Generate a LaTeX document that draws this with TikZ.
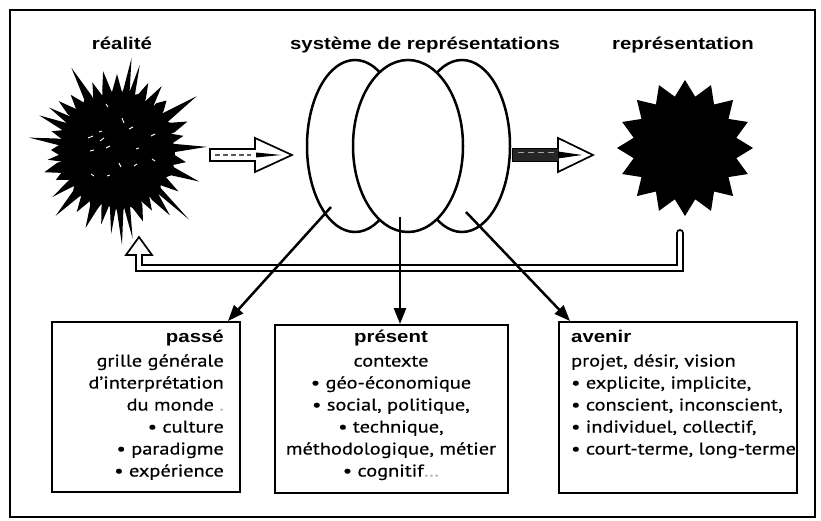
\documentclass[tikz,border=0pt]{standalone}
\usepackage{fontspec}
\setmainfont{PT Sans}
\newfontfamily\ttlfont[FakeStretch=1.2]{Liberation Sans}
\newfontfamily\bxfont[FakeStretch=1.2,FakeBold=0.6]{PT Sans}
\usetikzlibrary{arrows.meta,shapes.geometric}
\newcommand\boxhead[1]{{\ttlfont\bfseries #1}}
\begin{document}
\begin{tikzpicture}[x=1pt,y=-1pt,
  ttl/.style={font=\ttlfont\bfseries\fontsize{17}{20}\selectfont, inner sep=0pt},
  bx/.style={draw, line width=1.9pt, inner sep=0pt},
  bxtext/.style={font=\bxfont\fontsize{17}{22}\selectfont, inner sep=0pt},
  elps/.style={ellipse, draw, line width=2.5pt, fill=white, inner sep=0pt, minimum height=172pt},
  conn/.style={line width=2.5pt, -{Triangle[length=16pt,width=12pt]}},
  hollow/.style={fill=white, draw, line width=1.7pt, line join=miter}
]
\useasboundingbox (0,0) rectangle (821,521);
\draw[line width=1.8pt] (10,10) rectangle (815,517);

% titles
\node[ttl, anchor=base] (treal) at (122,50) {réalité};
\node[ttl, anchor=base] (tsys) at (425,50) {système de représentations};
\node[ttl, anchor=base] (trep) at (683,50) {représentation};

% reality burst
\coordinate (real) at (117,150);
\begin{scope}[shift={(117,150)}, yscale=-1]
\fill (0:58) \foreach \a/\r/\w/\i in {
 2/90/4/58, 12/68/5/56, 22/76/5/60, 34/96/5/58, 45/70/5/61, 55/78/5/56,
 65/74/4/60, 75/88/3/58, 81/93/3/61, 90/76/5/58, 100/80/4/61, 110/72/5/56,
 119/94/4/60, 130/72/5/58, 140/76/4/61, 148/80/4/56, 156/85/4/58, 164/68/5/56,
 172/89/3/60, 180/66/5/58, 188/70/4/56, 197/76/5/61, 206/68/5/58, 216/80/4/56,
 227/90/4/60, 237/74/5/58, 248/84/4/61, 258/76/4/56, 266/84/3/58, 273/95/3/61,
 280/90/3/58, 290/76/5/60, 300/70/5/56, 309/84/4/61, 316/100/3/58, 326/74/5/56,
 339/88/4/60, 350/70/5/58}
 { -- (\a-\w:\i) -- (\a:\r) -- (\a+\w:\i) } -- cycle;
\end{scope}
\foreach \xa/\ya/\xb/\yb in {88/138/93/136, 100/141/104/138, 122/118/124/123,
  129/129/133/127, 106/148/110/146, 151/136/155/134, 90/151/94/150,
  119/163/121/167, 134/166/137/164, 91/174/94/176, 107/176/110/175,
  152/159/155/161, 136/149/139/148, 99/132/102/131, 106/104/108/107}
  \draw[white, line width=0.9pt] (\xa,\ya) -- (\xb,\yb);

% arrow 1
\filldraw[hollow] (210,149) -- (255,149) -- (255,138) -- (292,155) -- (255,172) -- (255,161) -- (210,161) -- cycle;
\draw[black!65, line width=2pt, dash pattern=on 5pt off 3pt] (215,155) -- (251,155);
\fill (256,152.5) -- (281,155) -- (256,157.5) -- cycle;

% ellipses
\node[elps, minimum width=96pt] (e1) at (355,146) {};
\node[elps, minimum width=96pt] (e3) at (462,146) {};
\node[elps, minimum width=110pt] (e2) at (408,146) {};

% arrow 2
\filldraw[hollow] (513,149) -- (558,149) -- (558,138) -- (593,155) -- (558,172) -- (558,161) -- (513,161) -- cycle;
\fill[black!85] (513,149) rectangle (559,161);
\draw[black!35, line width=1pt, dash pattern=on 6pt off 4pt] (518,153) -- (554,153);
\fill (558,151.5) -- (582,155) -- (558,158.5) -- cycle;

% representation star
\node[star, star points=16, star point ratio=1.3, fill=black, minimum size=136pt, inner sep=0pt] (rep) at (685,148) {};

% feedback hollow arrow
\filldraw[hollow] (677,233) -- (677,265) -- (142,265) -- (142,255) -- (152,255) -- (139,237) -- (126,255) -- (136,255) -- (136,271) -- (683,271) -- (683,233) arc (0:-180:3) -- cycle;

% boxes
\node[bx, minimum width=188pt, minimum height=170pt] (bpasse) at (146,407) {};
\node[bx, minimum width=233pt, minimum height=168pt] (bpres) at (391.5,409) {};
\node[bx, minimum width=238pt, minimum height=171pt] (bave) at (678,407.5) {};

\node[bxtext, anchor=base east, align=right] (tpasse) at (224,476.5) {\boxhead{passé}\\[2.5pt]
grille générale\\
d’interprétation\\
du monde {\color{black!30}.}\\
\textbullet{} culture\\
\textbullet{} paradigme\\
\textbullet{} expérience};

\node[bxtext, anchor=base, align=center] (tpres) at (391,476.5) {\boxhead{présent}\\[2.5pt]
contexte\\
\textbullet{} géo-économique\\
\textbullet{} social, politique,\\
\textbullet{} technique,\\
méthodologique, métier\\
\textbullet{} cognitif{\color{black!30}…}};

\node[bxtext, anchor=base west, align=left] (tave) at (571,454.5) {\boxhead{avenir}\\[2.5pt]
projet, désir, vision\\
\textbullet{} explicite, implicite,\\
\textbullet{} conscient, inconscient,\\
\textbullet{} individuel, collectif,\\
\textbullet{} court-terme, long-terme};

% connectors
\coordinate (s1) at (331,207);
\coordinate (s2) at (400,217);
\coordinate (s3) at (466,212);
\draw[conn] (s1) -- ([xshift=-13pt]bpasse.north east);
\draw[conn] (s2) -- ([xshift=8.5pt]bpres.north);
\draw[conn] (s3) -- ([xshift=12pt]bave.north west);
\end{tikzpicture}
\end{document}
